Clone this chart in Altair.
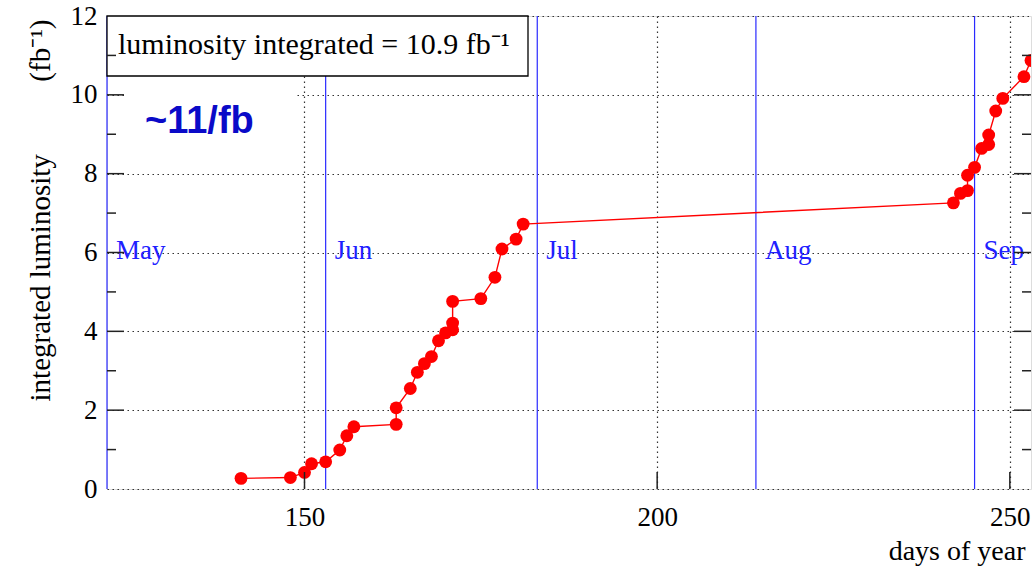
import altair as alt
import pandas as pd

# ---- data ----
days = [141, 148, 150, 151, 153, 155, 156, 157, 163, 163, 165, 166, 167, 168, 169,
        170, 171, 171, 171, 175, 177, 178, 180, 181, 242, 243, 244, 244, 245, 246,
        247, 247, 248, 249, 252, 253]
lumi = [0.27, 0.29, 0.42, 0.64, 0.69, 0.99, 1.35, 1.58, 1.64, 2.06, 2.55, 2.96, 3.18,
        3.36, 3.76, 3.96, 4.04, 4.21, 4.76, 4.83, 5.37, 6.09, 6.34, 6.72, 7.26, 7.50,
        7.57, 7.96, 8.16, 8.64, 8.74, 8.98, 9.59, 9.91, 10.46, 10.87]

months = ["May", "Jun", "Jul", "Aug", "Sep"]
month_start = [122, 153, 183, 214, 245]

x_ticks = [150, 200, 250]
y_major = [0, 2, 4, 6, 8, 10, 12]
y_minor = [1, 3, 5, 7, 9, 11]
month_label_y = 6

legend_text = "luminosity integrated = 10.9 fb\u207b\u00b9"
note_text = "~11/fb"
y_title = "integrated luminosity" + "\u00a0" * 10 + "(fb\u207b\u00b9)"
x_title = "days of year"

W, H = 924, 473
SERIF = "Liberation Serif"

df = pd.DataFrame({"day": days, "lum": lumi, "order": list(range(len(days)))})
mdf = pd.DataFrame({"day": month_start, "month": months, "lum": [month_label_y] * len(months)})
ymaj = pd.DataFrame({"lum": y_major[1:-1]})
ymin = pd.DataFrame({"lum": y_minor})
xt = pd.DataFrame({"day": x_ticks})
one = pd.DataFrame({"a": [0]})

xs = alt.Scale(domain=[122, 253], nice=False, zero=False)
ys = alt.Scale(domain=[0, 12], nice=False, zero=True)

xaxis = alt.Axis(values=x_ticks, grid=True, gridDash=[1.5, 3.5], gridColor="#333",
                 gridWidth=1.2, ticks=False, domain=False, labelFont=SERIF,
                 labelFontSize=27, labelColor="black", labelPadding=15,
                 title=x_title, titleFont=SERIF, titleFontSize=28,
                 titleFontWeight="normal", titleColor="black", titleX=W - 6,
                 titleY=62, titleAlign="right", titleBaseline="middle")
yaxis = alt.Axis(values=y_major, grid=True, gridDash=[1.5, 3.5], gridColor="#333",
                 gridWidth=1.2, ticks=False, domain=False, labelFont=SERIF,
                 labelFontSize=27, labelColor="black", labelPadding=10,
                 title=y_title, titleFont=SERIF, titleFontSize=29,
                 titleFontWeight="normal", titleColor="black", titleX=-67,
                 titleY=3, titleAlign="right", titleBaseline="middle", titleAngle=270)

X = alt.X("day:Q", scale=xs, axis=xaxis)
Y = alt.Y("lum:Q", scale=ys, axis=yaxis)

month_lines = alt.Chart(mdf).mark_rule(color="#2a2aff", strokeWidth=1.2).encode(x=X)

month_text = alt.Chart(mdf).mark_text(font=SERIF, fontSize=27, color="#2020ff",
                                      align="left", baseline="middle", dx=9, dy=-2).encode(
    x=X, y=Y, text="month:N")

legend_box = alt.Chart(one).mark_rect(fill="white", stroke="black", strokeWidth=1.3).encode(
    x=alt.value(0), x2=alt.value(421), y=alt.value(0), y2=alt.value(60))
legend_lbl = alt.Chart(one).mark_text(font=SERIF, fontSize=30, color="black",
                                      align="left", baseline="middle").encode(
    x=alt.value(11), y=alt.value(29), text=alt.value(legend_text))

white_box = alt.Chart(one).mark_rect(fill="white").encode(
    x=alt.value(17), x2=alt.value(190), y=alt.value(61), y2=alt.value(156))
note = alt.Chart(one).mark_text(font="Liberation Sans", fontWeight="bold", fontSize=38,
                                color="#0a0ac8", align="left", baseline="middle").encode(
    x=alt.value(38), y=alt.value(106), text=alt.value(note_text))

line = alt.Chart(df).mark_line(color="red", strokeWidth=1.4, clip=True).encode(
    x=X, y=Y, order="order:Q")
pts = alt.Chart(df).mark_circle(color="red", size=165, opacity=1, clip=True).encode(x=X, y=Y)

lt_major = alt.Chart(ymaj).mark_rule(color="#222", strokeWidth=1.5).encode(
    y=Y, x=alt.value(0), x2=alt.value(17))
lt_minor = alt.Chart(ymin).mark_rule(color="#222", strokeWidth=1.5).encode(
    y=Y, x=alt.value(0), x2=alt.value(9))
rt_major = alt.Chart(ymaj).mark_rule(color="#222", strokeWidth=1.5).encode(
    y=Y, x=alt.value(W - 17), x2=alt.value(W))
rt_minor = alt.Chart(ymin).mark_rule(color="#222", strokeWidth=1.5).encode(
    y=Y, x=alt.value(W - 9), x2=alt.value(W))
bt = alt.Chart(xt).mark_rule(color="#222", strokeWidth=1.5).encode(
    x=X, y=alt.value(H - 17), y2=alt.value(H))

chart = alt.layer(
    month_lines, line, pts, month_text, white_box, note, legend_box, legend_lbl,
    lt_major, lt_minor, rt_major, rt_minor, bt
).properties(
    width=W, height=H,
    autosize=alt.AutoSizeParams(type="none"),
    padding={"left": 107, "top": 16, "right": 4, "bottom": 79},
).configure_view(stroke="black", strokeWidth=1.5).configure(background="white")

chart.save("out.html", embed_options={"renderer": "svg", "actions": False})
